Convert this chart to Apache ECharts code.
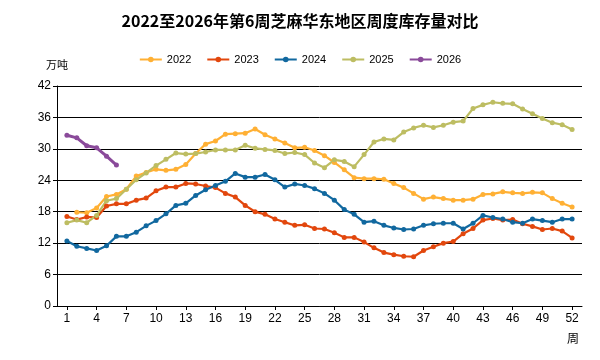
<!DOCTYPE html>
<html>
<head>
<meta charset="utf-8">
<script src="https://cdn.jsdelivr.net/npm/echarts@6/dist/echarts.min.js"></script>
<style>html,body{margin:0;padding:0;background:#fff}#c{width:600px;height:360px}</style>
</head>
<body>
<div id="c"></div>
<script>
const titleText = '2022至2026年第6周芝麻华东地区周度库存量对比';
const weeks = Array.from({length: 52}, (_, i) => i + 1);
const tickWeeks = [1,4,7,10,13,16,19,22,25,28,31,34,37,40,43,46,49,52];
const seriesNames = ['2022','2023','2024','2025','2026'];
const colors = ['#FFB034','#E2470D','#11689F','#BDBD62','#8A4A9A'];

const d2022 = [null,17.9,17.8,18.7,20.9,21.3,22.3,24.8,25.5,26.1,
  25.9,26.1,27.0,29.1,30.9,31.5,32.8,32.9,33.0,33.8,
  32.7,31.9,31.1,30.2,30.3,29.7,28.7,27.4,26.0,24.5,
  24.3,24.3,24.2,23.4,22.6,21.5,20.4,20.8,20.5,20.2,
  20.2,20.4,21.3,21.4,21.8,21.6,21.5,21.7,21.6,20.5,
  19.6,18.9];
const d2023 = [17.1,16.5,17.0,16.9,19.1,19.5,19.5,20.2,20.6,22.0,
  22.7,22.7,23.4,23.3,22.9,22.6,21.5,20.8,19.2,18.0,
  17.5,16.6,16.0,15.4,15.5,14.8,14.7,14.0,13.1,13.1,
  12.2,11.1,10.2,9.8,9.5,9.4,10.6,11.3,12.0,12.3,
  13.8,14.8,16.4,16.7,16.4,16.5,15.7,15.2,14.6,14.8,
  14.3,13.0];
const d2024 = [12.4,11.4,11.0,10.6,11.5,13.3,13.3,14.1,15.3,16.3,
  17.6,19.2,19.6,21.1,22.2,23.0,23.8,25.3,24.6,24.6,
  25.1,24.1,22.7,23.3,23.0,22.4,21.5,20.2,18.4,17.5,
  16.0,16.2,15.4,14.9,14.6,14.7,15.4,15.7,15.8,15.8,
  14.7,15.8,17.3,16.9,16.6,16.0,15.8,16.6,16.3,16.0,
  16.6,16.6];
const d2025 = [15.9,16.4,15.9,17.3,20.1,20.5,22.3,24.1,25.4,26.8,
  28.0,29.2,29.0,29.1,29.4,29.8,29.8,29.8,30.7,30.1,
  29.9,29.7,29.1,29.3,28.9,27.3,26.4,27.9,27.6,26.6,
  28.9,31.3,31.9,31.7,33.2,34.0,34.5,34.1,34.5,35.1,
  35.3,37.7,38.4,38.9,38.7,38.6,37.6,36.7,35.8,35.0,
  34.6,33.7];
const d2026 = [32.6,32.1,30.6,30.2,28.6,26.9];
const allData = [d2022, d2023, d2024, d2025, d2026];

const chart = echarts.init(document.getElementById('c'));
const font = 'Arial, "Liberation Sans", sans-serif';
const cjk = '"Noto Sans CJK SC", sans-serif';
chart.setOption({
  animation: false,
  backgroundColor: '#fff',
  title: {
    text: titleText, left: 'center', top: 8,
    textStyle: {fontSize: 16, fontWeight: 'bold', color: '#000', fontFamily: cjk}
  },
  legend: {
    data: seriesNames, top: 49, left: 'center', itemWidth: 22, itemHeight: 7, itemGap: 15,
    textStyle: {fontSize: 11, color: '#000', fontFamily: font}
  },
  grid: {left: 57, right: 18, top: 86, bottom: 54},
  xAxis: {
    type: 'value', min: 0, max: 53,
    name: '周', nameLocation: 'end', nameGap: 0,
    nameTextStyle: {fontSize: 12, color: '#000', align: 'right', verticalAlign: 'top', padding: [26, 3, 0, 0], fontFamily: cjk},
    axisLine: {show: true, lineStyle: {color: '#000', width: 1}},
    axisTick: {show: true, length: 4, customValues: tickWeeks, lineStyle: {color: '#000'}},
    axisLabel: {customValues: tickWeeks, color: '#000', fontSize: 12, margin: 7, fontFamily: font},
    splitLine: {show: false}
  },
  yAxis: {
    type: 'value', min: 0, max: 42, interval: 6,
    name: '万吨', nameLocation: 'end', nameGap: 16,
    nameTextStyle: {fontSize: 11, color: '#000', align: 'center', fontFamily: cjk},
    axisLine: {show: true, lineStyle: {color: '#000', width: 1}},
    axisTick: {show: true, length: 4, lineStyle: {color: '#000'}},
    axisLabel: {color: '#000', fontSize: 12, margin: 6, fontFamily: font},
    splitLine: {show: true, lineStyle: {color: '#000', width: 1}}
  },
  series: seriesNames.map((n, i) => ({
    name: n, type: 'line',
    data: allData[i].map((v, j) => [weeks[j], v]),
    color: colors[i],
    symbol: 'circle', symbolSize: 5,
    showSymbol: true,
    lineStyle: {width: i === 4 ? 3 : 2.2},
    connectNulls: false
  }))
});
</script>
</body>
</html>
